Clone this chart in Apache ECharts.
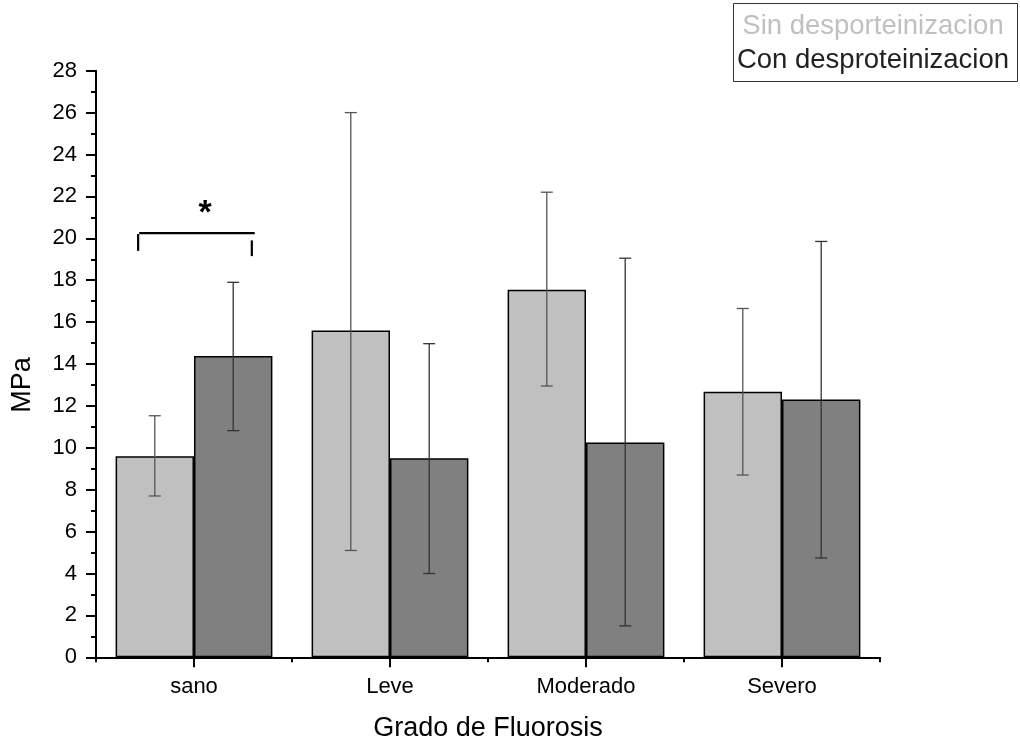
<!DOCTYPE html>
<html>
<head>
<meta charset="utf-8">
<script src="https://cdn.jsdelivr.net/npm/echarts@6/dist/echarts.min.js"></script>
<style>html,body{margin:0;padding:0;background:#fff}#c{width:1020px;height:742px}</style>
</head>
<body>
<div id="c"></div>
<script>
var categories = ['sano', 'Leve', 'Moderado', 'Severo'];
var seriesNames = ['Sin desporteinizacion', 'Con desproteinizacion'];
var sinValues = [9.6, 15.6, 17.55, 12.68];
var conValues = [14.38, 9.5, 10.25, 12.3];
var sinLow = [7.7, 5.1, 12.95, 8.7];
var sinHigh = [11.53, 26.0, 22.2, 16.65];
var conLow = [10.82, 4.0, 1.5, 4.74];
var conHigh = [17.9, 14.97, 19.05, 19.85];
var yTicks = [0, 28, 2];
var signifBracket = { category: 0, level: 20.25, leftDrop: 19.4, rightTop: 19.9, rightDrop: 19.15, starLevel: 21.2, text: '*' };

var FONT = '"Liberation Sans", Arial, sans-serif';
var chart = echarts.init(document.getElementById('c'), null, { renderer: 'canvas' });

function errData(low, high) {
  return categories.map(function (c, i) { return [i, low[i], high[i]]; });
}
function errRender(offsetFrac, color) {
  return function (params, api) {
    var i = api.value(0);
    var band = api.size([1, 0])[0];
    var lo = api.coord([i, api.value(1)]);
    var hi = api.coord([i, api.value(2)]);
    var x = lo[0] + offsetFrac * band;
    var cap = 6;
    var st = { stroke: color, lineWidth: 1.3 };
    return {
      type: 'group',
      children: [
        { type: 'line', shape: { x1: x, y1: lo[1], x2: x, y2: hi[1] }, style: st },
        { type: 'line', shape: { x1: x - cap, y1: lo[1], x2: x + cap, y2: lo[1] }, style: st },
        { type: 'line', shape: { x1: x - cap, y1: hi[1], x2: x + cap, y2: hi[1] }, style: st }
      ]
    };
  };
}

var option = {
  backgroundColor: '#fff',
  animation: false,
  grid: { left: 96, right: 140, top: 70.7, bottom: 84.7, containLabel: false, outerBoundsMode: 'none' },
  xAxis: [{
    type: 'category',
    data: categories,
    name: 'Grado de Fluorosis',
    nameLocation: 'middle',
    nameGap: 57.5,
    nameTextStyle: { fontFamily: FONT, fontSize: 27, color: '#000' },
    axisLine: { lineStyle: { color: '#000', width: 2 } },
    axisTick: { show: true, length: 5, lineStyle: { color: '#000', width: 2 } },
    axisLabel: { fontFamily: FONT, fontSize: 22, color: '#000', margin: 19 },
    splitLine: { show: false }
  }, {
    type: 'category',
    data: categories,
    position: 'bottom',
    axisLine: { show: false },
    axisTick: { show: true, alignWithLabel: true, length: 10, lineStyle: { color: '#000', width: 2 } },
    axisLabel: { show: false },
    splitLine: { show: false }
  }],
  yAxis: {
    type: 'value',
    min: yTicks[0], max: yTicks[1], interval: yTicks[2],
    axisLine: { show: true, lineStyle: { color: '#000', width: 2 } },
    axisTick: { show: true, length: 10, lineStyle: { color: '#000', width: 2 } },
    minorTick: { show: true, splitNumber: 2, length: 5, lineStyle: { color: '#000', width: 2 } },
    axisLabel: { fontFamily: FONT, fontSize: 22, color: '#000', margin: 19 },
    splitLine: { show: false }
  },
  series: [{
    name: seriesNames[0], type: 'bar', data: sinValues,
    barGap: '0%', barCategoryGap: '20%',
    itemStyle: { color: '#c0c0c0', borderColor: '#000', borderWidth: 1.5 }
  }, {
    name: seriesNames[1], type: 'bar', data: conValues,
    barGap: '0%', barCategoryGap: '20%',
    itemStyle: { color: '#808080', borderColor: '#000', borderWidth: 1.5 }
  }, {
    type: 'custom', data: errData(sinLow, sinHigh), renderItem: errRender(-0.2, '#555'), z: 5,
    encode: { x: 0, y: [1, 2] }
  }, {
    type: 'custom', data: errData(conLow, conHigh), renderItem: errRender(0.2, '#333'), z: 5,
    encode: { x: 0, y: [1, 2] }
  }, {
    type: 'custom', z: 6,
    data: [[signifBracket.category, signifBracket.level]],
    renderItem: function (params, api) {
      var c = api.coord([signifBracket.category, signifBracket.level]);
      var yLd = api.coord([0, signifBracket.leftDrop])[1];
      var yRt = api.coord([0, signifBracket.rightTop])[1];
      var yRd = api.coord([0, signifBracket.rightDrop])[1];
      var yStar = api.coord([0, signifBracket.starLevel])[1];
      var band = api.size([1, 0])[0];
      var xl = c[0] - 0.285 * band, xr = c[0] + 0.31 * band, xv = c[0] + 0.295 * band;
      var st = { stroke: '#000', lineWidth: 2.2 };
      return {
        type: 'group',
        children: [
          { type: 'line', shape: { x1: xl + 1, y1: c[1], x2: xr, y2: c[1] }, style: st },
          { type: 'line', shape: { x1: xl, y1: c[1] + 1, x2: xl, y2: yLd }, style: st },
          { type: 'line', shape: { x1: xv, y1: yRt, x2: xv, y2: yRd }, style: st },
          { type: 'text', style: { x: c[0] + 11, y: yStar, text: signifBracket.text, fill: '#000',
            font: 'bold 34px ' + FONT, align: 'center', verticalAlign: 'middle' } }
        ]
      };
    }
  }],
  graphic: [{
    type: 'rect', shape: { x: 733.5, y: 3.5, width: 284, height: 78 },
    style: { fill: '#fff', stroke: '#333', lineWidth: 1 }
  }, {
    type: 'text', x: 873, y: 26,
    style: { text: seriesNames[0], fill: '#c0c0c0', font: '27.5px ' + FONT, align: 'center', verticalAlign: 'middle' }
  }, {
    type: 'text', x: 873, y: 60,
    style: { text: seriesNames[1], fill: '#222', font: '27.5px ' + FONT, align: 'center', verticalAlign: 'middle' }
  }, {
    type: 'text', x: 23, y: 385, rotation: Math.PI / 2,
    style: { text: 'MPa', fill: '#000', font: '27px ' + FONT, align: 'center', verticalAlign: 'middle' }
  }]
};
chart.setOption(option);
</script>
</body>
</html>
